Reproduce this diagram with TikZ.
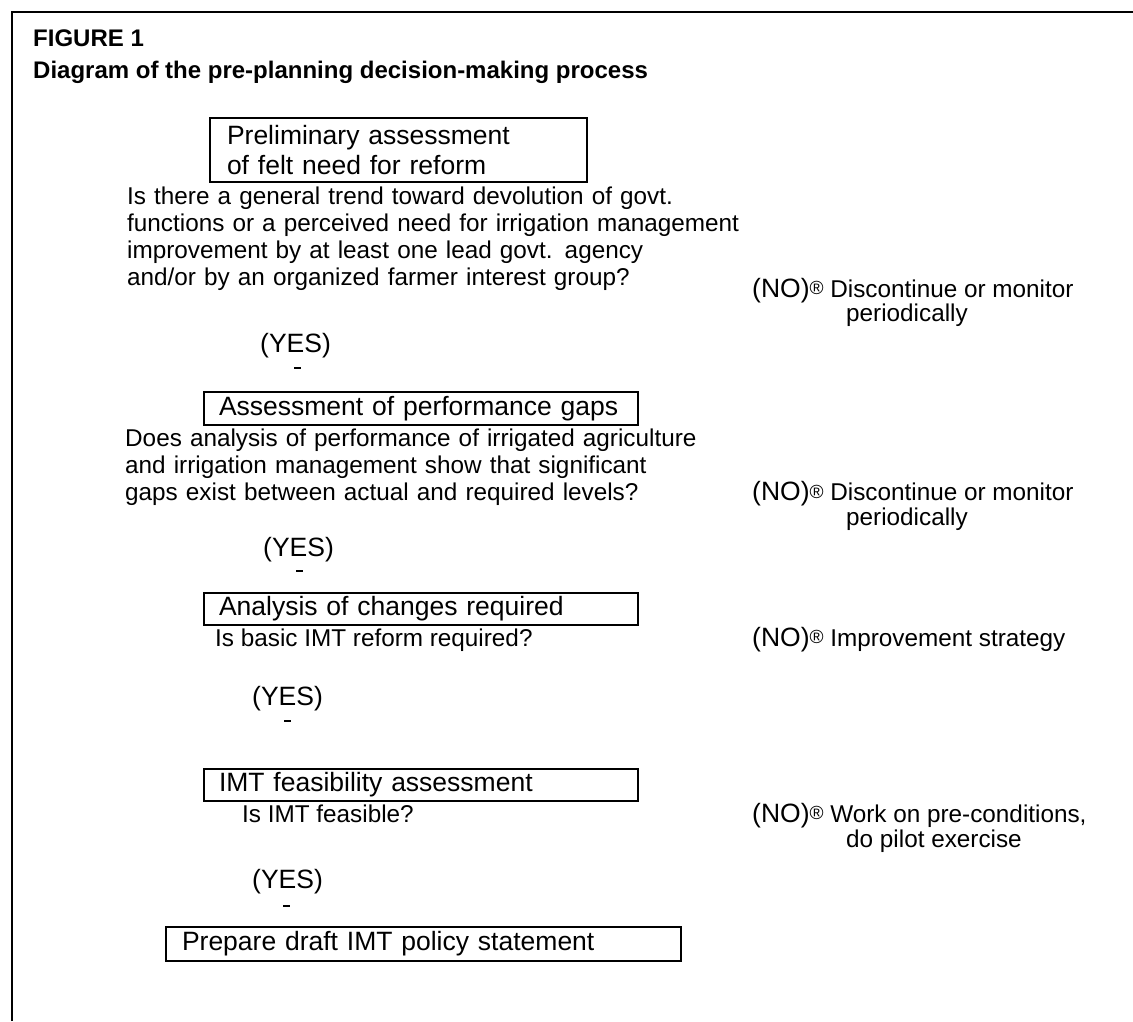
\documentclass[tikz,border=0pt]{standalone}
\usepackage{fontspec}
\setmainfont{Liberation Sans}
\newcommand{\regmark}{\raisebox{2.5pt}{\fontsize{19}{19}\selectfont ®}}
\begin{document}
\begin{tikzpicture}[x=1pt,y=-1pt,
  qt/.style={anchor=base west, inner sep=0pt, font=\fontsize{24.3}{27.3}\selectfont},
  qtm/.style={qt, text width=#1, align=left},
  bigt/.style={anchor=base west, inner sep=0pt, font=\fontsize{26.5}{30}\selectfont},
  titlet/.style={anchor=base west, inner sep=0pt, font=\fontsize{24}{28}\selectfont\bfseries},
  boxnode/.style={draw, line width=2pt, anchor=north west, inner ysep=0pt, align=left,
    font=\fontsize{26.5}{30}\selectfont},
  dashnode/.style={fill=black, inner sep=0pt, minimum width=7pt, minimum height=1.5pt}
]
\useasboundingbox (0,0) rectangle (1133,1021);
\draw[line width=1.8pt] (12,1021) -- (12,12) -- (1133,12);

% title
\node[titlet] (fig) at (33,46) {FIGURE 1};
\node[titlet] (cap) at (33,78) {Diagram of the pre-planning decision-making process};

% step 1
\node[boxnode, minimum width=377pt, minimum height=64pt, inner xsep=17pt, text width=343pt] (b1) at (209,117)
  {Preliminary assessment\\of felt need for reform};
\node[qtm=700pt] (q1) at (127,204) {Is there a general trend toward devolution of govt.\\
functions or a perceived need for irrigation management\\
improvement by at least one lead govt. agency\\
and/or by an organized farmer interest group?};
\node[qt] (no1) at (752,297) {{\fontsize{26.5}{30}\selectfont (NO)}\regmark{} Discontinue or monitor};
\node[qt] (no1b) at (846,321) {periodically};
\node[bigt] (yes1) at (260,352) {(YES)};
\node[dashnode] (d1) at (297,368) {};

% step 2
\node[boxnode, minimum width=434pt, minimum height=33pt, inner xsep=15pt, text width=404pt] (b2) at (203,391)
  {Assessment of performance gaps};
\node[qtm=700pt, font=\fontsize{24.3}{27.3}\selectfont] (q2) at (125,446) {Does analysis of performance of irrigated agriculture\\
and irrigation management show that significant\\
gaps exist between actual and required levels?};
\node[qt] (no2) at (752,500.6) {{\fontsize{26.5}{30}\selectfont (NO)}\regmark{} Discontinue or monitor};
\node[qt] (no2b) at (846,525) {periodically};
\node[bigt] (yes2) at (263,556) {(YES)};
\node[dashnode] (d2) at (299,571) {};

% step 3
\node[boxnode, minimum width=434pt, minimum height=32pt, inner xsep=15pt, text width=404pt] (b3) at (203,592)
  {Analysis of changes required};
\node[qt] (q3) at (215,646) {Is basic IMT reform required?};
\node[qt] (no3) at (752,646) {{\fontsize{26.5}{30}\selectfont (NO)}\regmark{} Improvement strategy};
\node[bigt] (yes3) at (252,705) {(YES)};
\node[dashnode] (d3) at (287,721) {};

% step 4
\node[boxnode, minimum width=434pt, minimum height=32pt, inner xsep=15pt, text width=404pt] (b4) at (203,768)
  {IMT feasibility assessment};
\node[qt] (q4) at (242,822) {Is IMT feasible?};
\node[qt] (no4) at (752,822) {{\fontsize{26.5}{30}\selectfont (NO)}\regmark{} Work on pre-conditions,};
\node[qt] (no4b) at (846,847) {do pilot exercise};
\node[bigt] (yes4) at (252,888) {(YES)};
\node[dashnode] (d4) at (286,906) {};

% step 5
\node[boxnode, minimum width=515pt, minimum height=34pt, inner xsep=16pt, text width=483pt] (b5) at (165,926)
  {Prepare draft IMT policy statement};
\end{tikzpicture}
\end{document}
